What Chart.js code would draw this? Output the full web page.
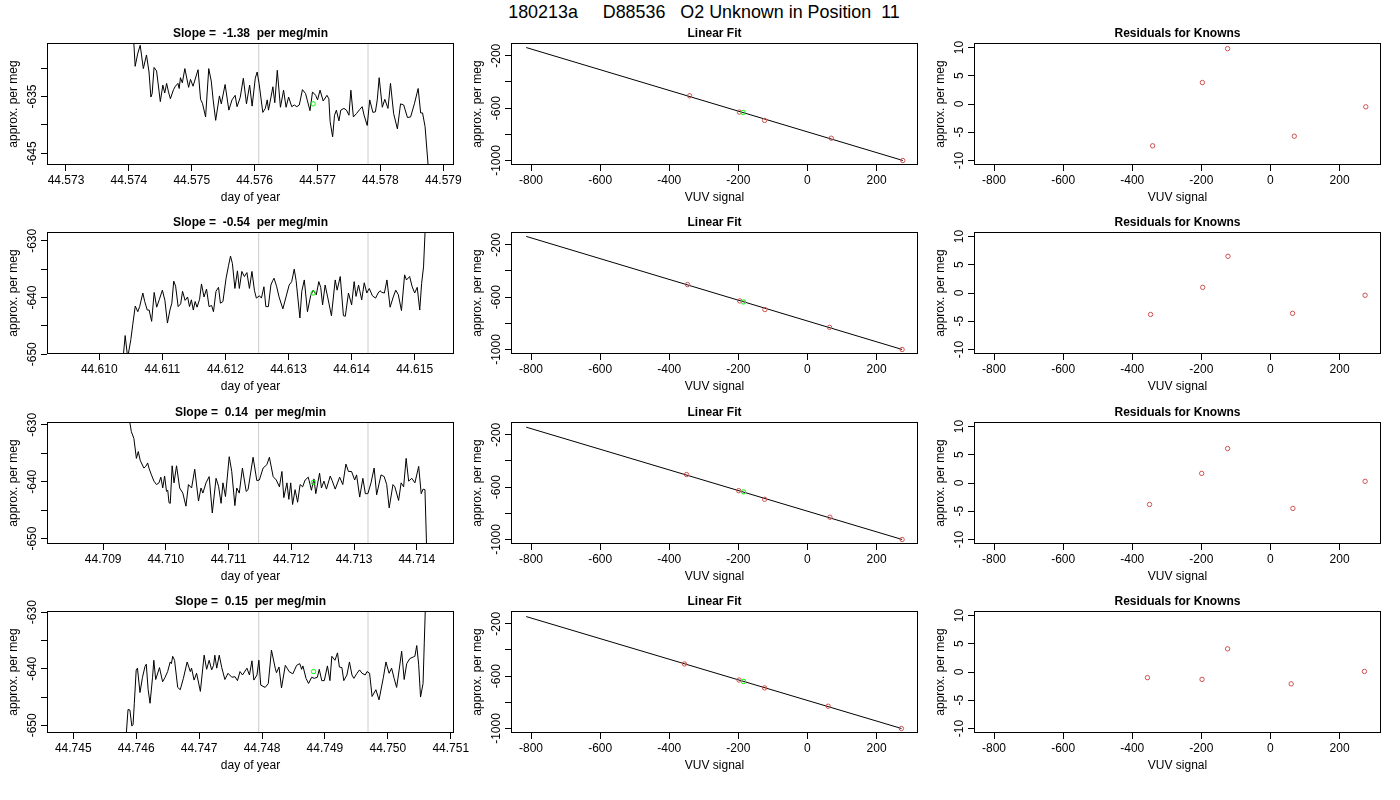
<!DOCTYPE html>
<html>
<head>
<meta charset="utf-8">
<script src="https://cdn.jsdelivr.net/npm/chart.js@4.4.1/dist/chart.umd.min.js"></script>
<style>
body { margin: 0; background: #fff; width: 1400px; height: 800px; position: relative; overflow: hidden; font-family: "Liberation Sans", Arial, sans-serif; }
#mainTitle { position: absolute; left: 4px; top: 2px; width: 1400px; text-align: center; font-size: 17.9px; line-height: 20px; white-space: pre; color: #000; }
canvas { position: absolute; }
</style>
</head>
<body>
<div id="mainTitle"></div>
<script>
// TEXTOS
const mainTitle = '180213a     D88536   O2 Unknown in Position  11';
const slopeTitles = ['Slope =  -1.38  per meg/min', 'Slope =  -0.54  per meg/min', 'Slope =  0.14  per meg/min', 'Slope =  0.15  per meg/min'];

// SERIES DE TIEMPO (dia del año, per meg)
const t1 = [44.57406,44.57410,44.57414,44.57418,44.57423,44.57428,44.57432,44.57435,44.57437,44.57440,
  44.57444,44.57450,44.57454,44.57457,44.57460,44.57463,44.57466,44.57471,44.57474,44.57478,
  44.57480,44.57482,44.57485,44.57489,44.57495,44.57498,44.57502,44.57510,44.57514,44.57517,
  44.57522,44.57527,44.57531,44.57534,44.57538,44.57544,44.57547,44.57553,44.57559,44.57564,
  44.57569,44.57572,44.57577,44.57582,44.57587,44.57592,44.57596,44.57601,44.57604,44.57607,
  44.57613,44.57617,44.57620,44.57622,44.57626,44.57629,44.57632,44.57636,44.57641,44.57646,
  44.57650,44.57654,44.57659,44.57663,44.57667,44.57671,44.57676,44.57681,44.57688,44.57692,
  44.57697,44.57700,44.57704,44.57709,44.57715,44.57718,44.57720,44.57724,44.57727,44.57730,
  44.57734,44.57737,44.57742,44.57746,44.57750,44.57753,44.57757,44.57762,44.57767,44.57771,
  44.57774,44.57779,44.57783,44.57788,44.57792,44.57795,44.57798,44.57803,44.57807,44.57812,
  44.57816,44.57821,44.57827,44.57832,44.57837,44.57843,44.57848,44.57854,44.57860,44.57864,
  44.57867,44.57871,44.57876,44.57877];
const v1 = [-622.0,-629.7,-627.5,-626.0,-630.1,-627.7,-630.7,-635.1,-634.5,-629.9,
  -630.5,-635.9,-633.0,-634.4,-632.7,-634.2,-635.4,-633.8,-633.2,-632.7,
  -633.6,-631.7,-632.6,-630.1,-633.4,-632.0,-633.2,-630.3,-635.5,-636.2,
  -638.6,-630.1,-632.3,-635.6,-639.2,-634.9,-636.3,-632.9,-637.4,-635.6,
  -634.8,-636.8,-635.2,-631.8,-636.3,-633.0,-636.7,-631.8,-630.7,-632.7,
  -637.8,-637.1,-635.6,-637.4,-635.1,-633.3,-636.1,-630.4,-636.9,-633.9,
  -636.9,-635.1,-636.8,-636.5,-636.8,-636.5,-633.8,-634.5,-637.5,-634.2,
  -634.8,-635.6,-633.9,-635.8,-634.8,-635.4,-639.4,-642.1,-638.3,-637.4,
  -639.3,-637.4,-637.1,-637.4,-638.3,-633.9,-638.6,-638.0,-637.3,-636.8,
  -638.3,-640.1,-635.6,-637.8,-637.7,-635.6,-631.7,-636.9,-635.5,-637.1,
  -632.7,-638.0,-640.7,-636.3,-636.5,-638.7,-638.6,-636.3,-633.6,-637.9,
  -637.9,-640.3,-647.3,-652.0];

const t2 = [44.61038,44.61041,44.61045,44.61050,44.61053,44.61057,44.61061,44.61064,44.61069,44.61072,
  44.61076,44.61079,44.61083,44.61087,44.61091,44.61095,44.61100,44.61104,44.61108,44.61112,
  44.61115,44.61118,44.61121,44.61125,44.61129,44.61132,44.61136,44.61140,44.61143,44.61146,
  44.61149,44.61152,44.61155,44.61159,44.61162,44.61166,44.61170,44.61174,44.61178,44.61181,
  44.61185,44.61189,44.61192,44.61196,44.61201,44.61205,44.61208,44.61211,44.61215,44.61219,
  44.61222,44.61226,44.61230,44.61234,44.61238,44.61242,44.61246,44.61249,44.61254,44.61257,
  44.61261,44.61264,44.61268,44.61272,44.61275,44.61277,44.61281,44.61285,44.61291,44.61296,
  44.61301,44.61305,44.61309,44.61312,44.61318,44.61321,44.61325,44.61330,44.61335,44.61339,
  44.61344,44.61348,44.61351,44.61354,44.61358,44.61362,44.61368,44.61374,44.61377,44.61382,
  44.61387,44.61390,44.61395,44.61400,44.61404,44.61407,44.61411,44.61416,44.61420,44.61424,
  44.61428,44.61433,44.61438,44.61442,44.61445,44.61448,44.61452,44.61456,44.61461,44.61466,
  44.61470,44.61474,44.61479,44.61484,44.61487,44.61492,44.61496,44.61500,44.61504,44.61508,
  44.61511,44.61514,44.61517];
const v2 = [-650.4,-646.7,-650.6,-647.4,-644.8,-641.5,-642.5,-641.6,-639.2,-640.7,
  -642.2,-642.2,-644.2,-639.1,-641.7,-640.4,-638.7,-640.5,-644.5,-642.2,
  -641.0,-637.1,-638.0,-641.6,-641.1,-638.9,-640.5,-639.9,-641.6,-640.4,
  -642.2,-640.7,-641.7,-640.3,-637.6,-639.9,-638.5,-641.6,-641.4,-642.5,
  -638.9,-638.2,-641.0,-640.7,-636.6,-634.3,-632.7,-634.0,-638.4,-635.3,
  -638.4,-635.4,-636.3,-635.6,-638.4,-635.4,-638.8,-640.1,-639.7,-640.1,
  -638.1,-641.6,-641.6,-637.8,-637.0,-636.6,-638.0,-639.9,-642.0,-639.9,
  -637.8,-637.2,-635.0,-637.0,-643.6,-638.9,-636.9,-642.5,-639.7,-638.7,
  -639.5,-637.2,-638.2,-641.3,-637.8,-639.9,-643.2,-636.9,-638.7,-636.3,
  -643.2,-643.3,-639.2,-641.3,-637.2,-639.8,-637.8,-640.4,-637.4,-639.2,
  -638.4,-639.7,-640.1,-639.2,-638.8,-639.1,-639.2,-636.9,-641.7,-639.9,
  -638.7,-639.5,-642.3,-636.0,-636.9,-636.3,-638.1,-639.2,-638.2,-642.2,
  -637.5,-634.6,-627.0];

const t3 = [44.70941,44.70945,44.70949,44.70953,44.70956,44.70959,44.70961,44.70965,44.70968,44.70971,
  44.70973,44.70977,44.70981,44.70985,44.70989,44.70992,44.70995,44.70998,44.71001,44.71003,
  44.71005,44.71007,44.71010,44.71013,44.71017,44.71022,44.71027,44.71032,44.71036,44.71041,
  44.71046,44.71052,44.71056,44.71059,44.71064,44.71069,44.71074,44.71080,44.71084,44.71088,
  44.71091,44.71095,44.71101,44.71105,44.71110,44.71113,44.71117,44.71122,44.71128,44.71131,
  44.71139,44.71145,44.71149,44.71155,44.71161,44.71165,44.71171,44.71176,44.71181,44.71185,
  44.71188,44.71193,44.71196,44.71199,44.71202,44.71206,44.71210,44.71214,44.71218,44.71222,
  44.71227,44.71232,44.71236,44.71239,44.71245,44.71248,44.71252,44.71256,44.71262,44.71265,
  44.71270,44.71277,44.71282,44.71287,44.71291,44.71296,44.71301,44.71304,44.71309,44.71314,
  44.71318,44.71322,44.71327,44.71332,44.71336,44.71343,44.71348,44.71352,44.71356,44.71362,
  44.71365,44.71371,44.71375,44.71379,44.71383,44.71387,44.71392,44.71397,44.71403,44.71407,
  44.71410,44.71413,44.71416];
const v3 = [-628.6,-631.2,-632.4,-635.9,-634.7,-636.2,-636.7,-637.6,-637.3,-636.7,
  -637.6,-638.8,-639.9,-640.5,-640.2,-639.2,-641.1,-639.0,-641.7,-641.5,
  -643.7,-643.8,-637.2,-640.2,-637.2,-641.1,-642.0,-644.3,-640.5,-641.1,
  -637.8,-643.4,-641.1,-642.0,-640.2,-639.1,-645.5,-639.4,-640.8,-643.8,
  -640.2,-642.6,-635.6,-638.2,-644.2,-641.1,-642.0,-637.6,-641.7,-641.4,
  -635.7,-639.8,-639.7,-637.6,-637.0,-635.7,-639.1,-639.7,-640.9,-638.2,
  -642.8,-640.2,-643.1,-640.2,-644.0,-641.4,-643.6,-640.5,-640.9,-639.7,
  -639.2,-641.5,-639.5,-642.1,-638.5,-641.1,-639.9,-641.3,-639.0,-639.8,
  -641.3,-639.2,-640.5,-636.9,-638.2,-638.2,-639.7,-638.8,-642.7,-639.4,
  -642.1,-642.1,-640.2,-637.6,-642.3,-638.8,-639.1,-640.5,-644.6,-640.5,
  -640.9,-643.3,-640.2,-640.9,-635.9,-639.9,-639.4,-640.2,-637.3,-642.1,
  -641.3,-641.4,-653.0];

const t4 = [44.74584,44.74587,44.74590,44.74593,44.74595,44.74597,44.74600,44.74602,44.74606,44.74610,
  44.74614,44.74616,44.74619,44.74622,44.74626,44.74628,44.74631,44.74637,44.74642,44.74646,
  44.74650,44.74654,44.74656,44.74658,44.74661,44.74666,44.74670,44.74675,44.74681,44.74686,
  44.74688,44.74692,44.74696,44.74702,44.74708,44.74712,44.74716,44.74720,44.74723,44.74725,
  44.74728,44.74732,44.74736,44.74741,44.74746,44.74752,44.74757,44.74761,44.74765,44.74769,
  44.74776,44.74780,44.74784,44.74787,44.74792,44.74795,44.74798,44.74805,44.74810,44.74815,
  44.74821,44.74823,44.74827,44.74831,44.74837,44.74840,44.74843,44.74849,44.74855,44.74860,
  44.74863,44.74865,44.74870,44.74874,44.74879,44.74883,44.74888,44.74891,44.74895,44.74899,
  44.74904,44.74908,44.74911,44.74916,44.74920,44.74923,44.74927,44.74930,44.74935,44.74939,
  44.74943,44.74946,44.74951,44.74955,44.74959,44.74964,44.74967,44.74971,44.74975,44.74981,
  44.74986,44.74993,44.74997,44.75002,44.75006,44.75010,44.75014,44.75018,44.75022,44.75026,
  44.75030,44.75035,44.75041,44.75043,44.75046,44.75049,44.75052,44.75056,44.75058,44.75060];
const v4 = [-651.9,-647.2,-647.3,-650.1,-649.9,-646.1,-640.2,-639.9,-644.2,-641.5,
  -639.6,-639.2,-643.7,-646.1,-641.5,-638.5,-641.9,-639.8,-642.3,-641.5,
  -640.5,-638.8,-639.1,-637.8,-638.5,-643.3,-643.7,-641.7,-638.8,-640.5,
  -639.9,-642.0,-640.8,-644.0,-637.6,-640.1,-638.5,-640.2,-639.4,-637.6,
  -639.9,-637.6,-639.8,-641.9,-640.8,-641.5,-641.4,-642.1,-640.5,-641.1,
  -639.9,-641.1,-638.6,-642.0,-641.1,-638.5,-642.9,-643.3,-642.6,-636.7,
  -639.9,-640.7,-639.7,-643.4,-639.4,-639.9,-640.5,-640.9,-639.4,-639.1,
  -640.1,-639.5,-641.7,-642.6,-641.5,-641.7,-641.5,-640.1,-642.1,-642.1,
  -639.5,-642.1,-637.8,-638.5,-637.2,-639.7,-639.8,-642.1,-641.1,-638.8,
  -641.1,-641.7,-640.8,-640.2,-640.8,-641.1,-640.5,-640.8,-644.9,-643.7,
  -645.5,-641.5,-638.8,-640.8,-639.9,-641.7,-643.3,-640.2,-636.9,-641.9,
  -639.1,-638.2,-637.9,-637.8,-635.9,-639.2,-645.0,-642.6,-635.3,-628.0];

// LIMITES Y MARCAS DE LAS SERIES
const timeLimits = [[44.572698, 44.579170], [44.609171, 44.615623], [44.708105, 44.714593], [44.744582, 44.751052]];
const timeTicks = [[44.573, 44.574, 44.575, 44.576, 44.577, 44.578, 44.579],
  [44.610, 44.611, 44.612, 44.613, 44.614, 44.615],
  [44.709, 44.710, 44.711, 44.712, 44.713, 44.714],
  [44.745, 44.746, 44.747, 44.748, 44.749, 44.750, 44.751]];
const megLimits = [[-647.05, -625.6], [-649.95, -628.45], [-650.95, -629.5], [-651.35, -629.8]];
const megTicks = [[-645, -640, -635, -630], [-650, -645, -640, -635, -630], [-650, -645, -640, -635, -630], [-650, -645, -640, -635, -630]];
const megLabels = [[-645, -635], [-650, -640, -630], [-650, -640, -630], [-650, -640, -630]];
const windowStart = [44.576065, 44.612527, 44.711478, 44.747948];
const windowEnd = [44.577803, 44.614260, 44.713222, 44.749685];
const unknownTime = [44.57693, 44.61339, 44.71235, 44.74882];
const unknownMeg = [-636.3, -639.2, -640.1, -640.5];

// AJUSTE LINEAL (VUV vs per meg)
const vuvLimits = [-858, 320];
const vuvTicks = [-800, -600, -400, -200, 0, 200];
const fitLimits = [-1034.5, -102.5];
const fitTicks = [-1000, -800, -600, -400, -200];
const fitLabels = [-1000, -600, -200];
const knownVuv = [[-341, -197, -124, 69, 276], [-347, -196, -123, 64, 274], [-350, -199, -124, 65, 274], [-356, -198, -124, 60, 272]];
const knownMeg = [[-506, -630, -694, -830, -1000], [-504, -629, -695, -831, -1000], [-504, -627, -693, -830, -1000], [-507, -630, -690, -830, -1000]];
const unknownVuv = [-186, -185, -185, -185];
const unknownFitMeg = [-633, -637, -636, -641];
const fitLineVuv = [[-814, 276], [-814, 274], [-814, 274], [-814, 272]];
const fitLineMeg = [[-137, -1000], [-136, -1000], [-142, -1000], [-145, -1000]];

// RESIDUOS
const residLimits = [-10.8, 10.8];
const residTicks = [-10, -5, 0, 5, 10];
const residLabels = [-10, -5, 0, 5, 10];
const residuals = [[-7.4, 3.8, 9.8, -5.7, -0.5], [-3.8, 1.0, 6.5, -3.6, -0.4], [-3.8, 1.7, 6.1, -4.5, 0.3], [-1.0, -1.3, 4.1, -2.1, 0.1]];

const FONT = '"Liberation Sans", Arial, sans-serif';
const boxLeft = [47, 511, 974];
const boxTop = [43, 232, 422, 611];

document.getElementById('mainTitle').textContent = mainTitle;

// PLUGIN PARA CAJA, TITULOS Y ETIQUETAS VERTICALES ESTILO R
const rFrame = {
    id: 'rFrame',
    afterDraw(chart, args, o) {
        const ctx = chart.ctx;
        const a = chart.chartArea;
        const ys = chart.scales.y;
        ctx.save();
        ctx.strokeStyle = '#000';
        ctx.lineWidth = 1;
        ctx.strokeRect(a.left + 0.5, a.top + 0.5, a.right - a.left - 1, a.bottom - a.top - 1);
        ctx.fillStyle = '#000';
        ctx.textAlign = 'center';
        ctx.textBaseline = 'middle';
        ctx.font = 'bold 12px ' + FONT;
        ctx.fillText(o.title, (a.left + a.right) / 2, a.top - 9.5);
        ctx.font = '12px ' + FONT;
        ctx.fillText(o.xTitle, (a.left + a.right) / 2, a.bottom + 33);
        o.yLabels.forEach(v => {
            ctx.save();
            ctx.translate(a.left - 14.5, ys.getPixelForValue(v));
            ctx.rotate(-Math.PI / 2);
            ctx.fillText(String(v), 0, 0);
            ctx.restore();
        });
        ctx.translate(a.left - 33, (a.top + a.bottom) / 2);
        ctx.rotate(-Math.PI / 2);
        ctx.fillText(o.yTitle, 0, 0);
        ctx.restore();
    }
};

function axisOpts(lim, tickVals, isX, decimals) {
    return {
        type: 'linear',
        min: lim[0],
        max: lim[1],
        afterBuildTicks: s => { s.ticks = tickVals.map(v => ({ value: v })); },
        afterFit: s => {
            if (isX) { s.height = 45; s.paddingLeft = 0; s.paddingRight = 0; }
            else { s.width = 47; s.paddingTop = 0; s.paddingBottom = 0; }
        },
        ticks: {
            autoSkip: false,
            maxRotation: 0,
            minRotation: 0,
            padding: 2,
            color: isX ? '#000' : 'transparent',
            font: { size: 12, family: FONT },
            callback: v => Number(v).toFixed(decimals)
        },
        grid: { drawOnChartArea: false, drawTicks: true, tickLength: 6, color: '#000', lineWidth: 1 },
        border: { display: false }
    };
}

function openPoints(pts, color) {
    return { data: pts, showLine: false, pointRadius: 2.2, pointBorderWidth: 1, pointBorderColor: color, pointBackgroundColor: 'rgba(0,0,0,0)', clip: 0 };
}

function makePanel(col, row, datasets, xLim, xTicks, xDec, yLim, yTicks, plug) {
    const cv = document.createElement('canvas');
    cv.width = 484;
    cv.height = 192;
    cv.style.left = (boxLeft[col] - 47) + 'px';
    cv.style.top = (boxTop[row] - 25) + 'px';
    document.body.appendChild(cv);
    return new Chart(cv.getContext('2d'), {
        type: 'line',
        data: { datasets: datasets },
        options: {
            responsive: false,
            animation: false,
            events: [],
            layout: { padding: { top: 25, right: 30, left: 0, bottom: 0 } },
            plugins: { legend: { display: false }, tooltip: { enabled: false }, rFrame: plug },
            scales: { x: axisOpts(xLim, xTicks, true, xDec), y: axisOpts(yLim, yTicks, false, 0) }
        },
        plugins: [rFrame]
    });
}

const seriesT = [t1, t2, t3, t4];
const seriesV = [v1, v2, v3, v4];

for (let r = 0; r < 4; r++) {
    // SERIE DE TIEMPO
    const pts = seriesT[r].map((t, i) => ({ x: t, y: seriesV[r][i] }));
    const yl = megLimits[r];
    makePanel(0, r, [
        openPoints([{ x: unknownTime[r], y: unknownMeg[r] }], '#00ff00'),
        { data: pts, borderColor: '#000', borderWidth: 1, pointRadius: 0, tension: 0, fill: false, clip: 0 },
        { data: [{ x: windowStart[r], y: yl[0] }, { x: windowStart[r], y: yl[1] }], borderColor: '#cccccc', borderWidth: 1, pointRadius: 0, clip: 0 },
        { data: [{ x: windowEnd[r], y: yl[0] }, { x: windowEnd[r], y: yl[1] }], borderColor: '#cccccc', borderWidth: 1, pointRadius: 0, clip: 0 }
    ], timeLimits[r], timeTicks[r], 3, yl, megTicks[r], { title: slopeTitles[r], xTitle: 'day of year', yTitle: 'approx. per meg', yLabels: megLabels[r] });

    // AJUSTE LINEAL
    const known = knownVuv[r].map((x, i) => ({ x: x, y: knownMeg[r][i] }));
    makePanel(1, r, [
        openPoints([{ x: unknownVuv[r], y: unknownFitMeg[r] }], '#00ff00'),
        openPoints(known, '#d05050'),
        { data: fitLineVuv[r].map((x, i) => ({ x: x, y: fitLineMeg[r][i] })), borderColor: '#000', borderWidth: 1, pointRadius: 0, clip: 0 }
    ], vuvLimits, vuvTicks, 0, fitLimits, fitTicks, { title: 'Linear Fit', xTitle: 'VUV signal', yTitle: 'approx. per meg', yLabels: fitLabels });

    // RESIDUOS
    const res = knownVuv[r].map((x, i) => ({ x: x, y: residuals[r][i] }));
    makePanel(2, r, [
        openPoints(res, '#d05050')
    ], vuvLimits, vuvTicks, 0, residLimits, residTicks, { title: 'Residuals for Knowns', xTitle: 'VUV signal', yTitle: 'approx. per meg', yLabels: residLabels });
}
</script>
</body>
</html>
